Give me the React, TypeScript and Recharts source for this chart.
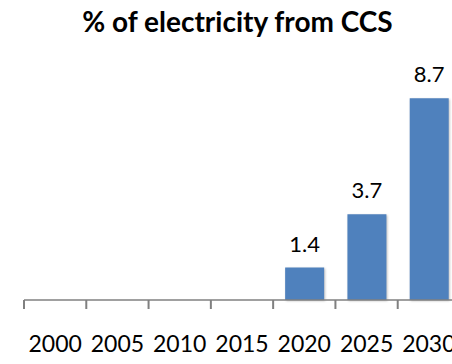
import { BarChart, Bar, XAxis, YAxis, LabelList } from 'recharts';

const years = ['2000', '2005', '2010', '2015', '2020', '2025', '2030'];
const ccsShare: (number | null)[] = [null, null, null, null, 1.4, 3.7, 8.7];
// category boundaries (Excel puts tick marks between the categories)
const boundaries = years.map((_, i) => i).concat(years.length);

const data = years.map((year, i) => ({ year, share: ccsShare[i], slot: i + 0.5 }));

const FONT = 'Lato, "Open Sans", sans-serif';
const CHART_W = 470;
const MARGIN = { top: 68, right: 10, left: 24, bottom: 62 };
const HALF_BAND = (CHART_W - MARGIN.left - MARGIN.right) / years.length / 2;

function YearTick(props: any) {
    const { x, y, payload } = props;
    return (
        <g>
            <rect x={x - HALF_BAND - 1} y={y - 36} width={2} height={9} fill='#808080' />
            <text x={x} y={y} dy='0.71em' textAnchor='middle' fontSize={23} fill='#000' fontFamily={FONT}>
                {payload.value}
            </text>
        </g>
    );
}

export default function App() {
    return (
        <div style={{ position: 'absolute', left: 0, top: 0, width: 452, height: 364, overflow: 'hidden', background: '#fff' }}>
            <svg width={452} height={50} style={{ position: 'absolute', left: 0, top: 0 }}>
                <text x={237.5} y={32} textAnchor='middle' fontSize={28} fontWeight='bold' fill='#000' fontFamily={FONT}>
                    % of electricity from CCS
                </text>
            </svg>
            <div style={{ position: 'absolute', left: 0, top: 0 }}>
                <BarChart width={CHART_W} height={364} data={data} margin={MARGIN} barCategoryGap={0}>
                    <XAxis
                        dataKey='year'
                        height={1}
                        interval={0}
                        axisLine={{ stroke: '#808080', strokeWidth: 1.5 }}
                        tickLine={false}
                        tickSize={0}
                        tickMargin={36}
                        tick={(p: any) => <YearTick {...p} />}
                    />
                    <XAxis
                        xAxisId='bounds'
                        type='number'
                        dataKey='slot'
                        domain={[0, years.length]}
                        ticks={boundaries}
                        interval={0}
                        height={1}
                        axisLine={false}
                        tick={false}
                        tickSize={9}
                        tickLine={{ stroke: '#808080', strokeWidth: 2 }}
                    />
                    <YAxis hide domain={[0, 10]} />
                    <Bar
                        dataKey='share'
                        fill='#4F81BD'
                        barSize={39}
                        isAnimationActive={false}
                        style={{ filter: 'drop-shadow(1.5px 1.5px 1px rgba(0,0,0,0.25))' }}
                    >
                        <LabelList dataKey='share' position='top' offset={16} fontSize={22} fill='#000' fontFamily={FONT} />
                    </Bar>
                </BarChart>
            </div>
        </div>
    );
}
